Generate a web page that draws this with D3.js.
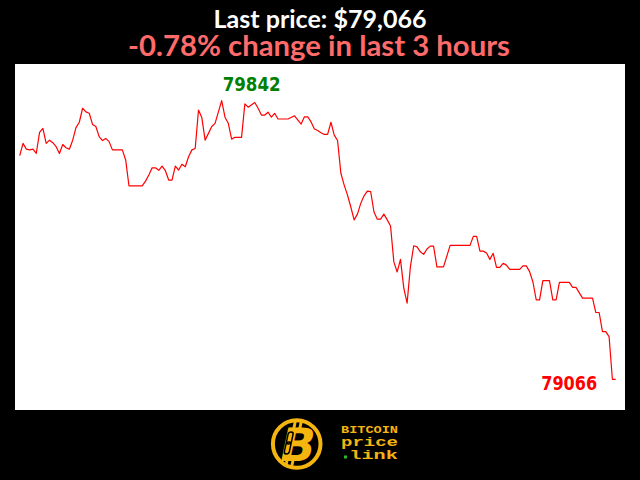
<!DOCTYPE html>
<html>
<head>
<meta charset="utf-8">
<script src="https://cdn.jsdelivr.net/npm/d3@7"></script>
<style>
  html, body { margin: 0; padding: 0; background: #000; }
  svg { display: block; }
</style>
</head>
<body>
<svg id="chart" width="640" height="480"></svg>
<script>
// ---- Data ----
const minutes = [0,1,2,3,4,5,6,7,8,9,10,11,12,13,14,15,16,17,18,19,20,21,22,23,24,25,26,27,28,30,31,32,33,37,38,39,40,41,42,43,44,45,46,47,48,49,50,51,52,53,54,55,56,57,58,59,61,62,63,64,65,67,68,69,71,72,73,74,75,76,77,78,81,83,85,86,87,88,89,90,91,92,93,94,95,96,97,98,99,100,101,102,103,104,105,106,107,108,109,110,111,112,113,114,115,116,117,118,119,120,121,122,123,124,125,126,128,130,136,137,138,139,140,141,142,143,144,145,146,147,148,151,152,153,154,155,156,157,158,160,161,162,163,166,167,168,170,173,174,175,176,177,178,179,180];
const prices = [79689,79723,79707,79705,79707,79695,79754,79765,79723,79732,79725,79714,79695,79720,79711,79707,79732,79767,79782,79821,79811,79807,79776,79770,79742,79731,79737,79728,79705,79705,79705,79677,79605,79605,79618,79635,79655,79655,79648,79660,79647,79621,79621,79660,79649,79665,79658,79686,79705,79709,79816,79795,79732,79751,79770,79779,79842,79796,79779,79735,79740,79740,79833,79824,79837,79821,79802,79802,79810,79796,79807,79791,79791,79800,79777,79797,79797,79783,79763,79759,79753,79748,79748,79782,79746,79731,79640,79607,79579,79546,79510,79526,79556,79577,79590,79589,79532,79512,79512,79526,79510,79493,79393,79365,79400,79320,79278,79380,79438,79435,79421,79414,79429,79437,79437,79379,79379,79439,79439,79464,79464,79423,79423,79418,79400,79417,79378,79378,79389,79384,79372,79372,79382,79382,79366,79337,79287,79287,79341,79341,79287,79287,79336,79336,79322,79322,79292,79292,79252,79252,79199,79199,79185,79066,79066];
const titleLine1 = "Last price: $79,066";
const titleLine2 = "-0.78% change in last 3 hours";
const logoLines = ["BITCOIN", "price", "link"];

// ---- Layout ----
const svg = d3.select("#chart");
svg.append("rect").attr("x", 0).attr("y", 0).attr("width", 640).attr("height", 480).attr("fill", "#000");

const plot = { x: 15, y: 64, w: 610, h: 346 };
svg.append("rect").attr("x", plot.x).attr("y", plot.y).attr("width", plot.w).attr("height", plot.h).attr("fill", "#fff");

const data = minutes.map((m, i) => ({ m, p: prices[i] }));
const x = d3.scaleLinear().domain([0, 180]).range([19.7, 615.7]);
const y = d3.scaleLinear().domain([d3.min(prices), d3.max(prices)]).range([379.3, 100.7]);

svg.append("path")
  .datum(data)
  .attr("fill", "none")
  .attr("stroke", "#ff0000")
  .attr("stroke-width", 1.2)
  .attr("stroke-linejoin", "round")
  .attr("d", d3.line().x(d => x(d.m)).y(d => y(d.p)));

// max / last labels
const maxD = data.reduce((a, b) => (b.p > a.p ? b : a));
const lastD = data[data.length - 1];
svg.append("text")
  .attr("x", x(maxD.m) + 1).attr("y", y(maxD.p) - 9.5)
  .attr("font-family", "DejaVu Sans, Verdana, sans-serif").attr("font-weight", "bold")
  .attr("font-size", 19.5).attr("fill", "#008000")
  .attr("textLength", 58).attr("lengthAdjust", "spacingAndGlyphs")
  .text(maxD.p);
svg.append("text")
  .attr("x", x(lastD.m) - 18.5).attr("y", y(lastD.p) + 10.7)
  .attr("text-anchor", "end")
  .attr("font-family", "DejaVu Sans, Verdana, sans-serif").attr("font-weight", "bold")
  .attr("font-size", 19.5).attr("fill", "#ff0000")
  .attr("textLength", 56).attr("lengthAdjust", "spacingAndGlyphs")
  .text(lastD.p);

// titles
svg.append("text")
  .attr("x", 320).attr("y", 28).attr("text-anchor", "middle")
  .attr("font-family", "Lato, sans-serif").attr("font-weight", "bold")
  .attr("font-size", 25).attr("fill", "#fff")
  .attr("textLength", 213).attr("lengthAdjust", "spacingAndGlyphs")
  .text(titleLine1);
svg.append("text")
  .attr("x", 319).attr("y", 55.5).attr("text-anchor", "middle")
  .attr("font-family", "Lato, sans-serif").attr("font-weight", "bold")
  .attr("font-size", 28.5).attr("fill", "#ff6b6b")
  .attr("textLength", 382).attr("lengthAdjust", "spacingAndGlyphs")
  .text(titleLine2);

// logo
const gold = "#f5b50f";
const logo = svg.append("g");
logo.append("circle").attr("cx", 296.7).attr("cy", 444).attr("r", 23.8)
  .attr("fill", "#000").attr("stroke", gold).attr("stroke-width", 4);
const bg = logo.append("g").attr("transform", "translate(298,444) skewX(-12)");
bg.append("text").attr("x", 0).attr("y", 16.5).attr("text-anchor", "middle")
  .attr("font-family", "DejaVu Sans, sans-serif").attr("font-weight", "bold")
  .attr("font-size", 46).attr("fill", gold).text("B");
// bitcoin strokes
[[-9, -22], [-3, -22], [-9, 16], [-3, 16]].forEach(([dx, dy]) => {
  bg.append("rect").attr("x", dx).attr("y", dy).attr("width", 3).attr("height", 6).attr("fill", gold);
});
// chain link
bg.append("rect").attr("x", -12).attr("y", -12).attr("width", 5).attr("height", 12).attr("rx", 2.5)
  .attr("fill", "none").attr("stroke", "#000").attr("stroke-width", 1.5);
bg.append("rect").attr("x", -12).attr("y", -2).attr("width", 5).attr("height", 12).attr("rx", 2.5)
  .attr("fill", "none").attr("stroke", "#000").attr("stroke-width", 1.5);

const monoAttrs = t => t.attr("font-family", "Liberation Mono, Courier New, monospace")
  .attr("font-weight", "bold").attr("fill", gold).attr("lengthAdjust", "spacingAndGlyphs");
monoAttrs(logo.append("text").attr("x", 341).attr("y", 432.7).attr("font-size", 11)
  .attr("textLength", 57).text(logoLines[0]));
monoAttrs(logo.append("text").attr("x", 341).attr("y", 446.2).attr("font-size", 12)
  .attr("textLength", 57).text(logoLines[1]));
logo.append("rect").attr("x", 344).attr("y", 455.5).attr("width", 3).attr("height", 3).attr("fill", "#2db82d");
monoAttrs(logo.append("text").attr("x", 349.3).attr("y", 459.3).attr("font-size", 12)
  .attr("textLength", 48.5).text(logoLines[2]));
</script>
</body>
</html>
